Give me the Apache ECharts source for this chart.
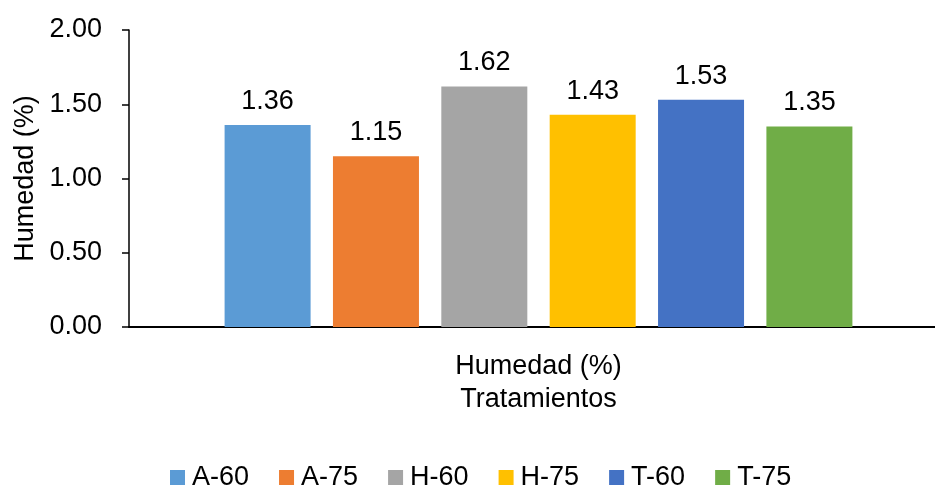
<!DOCTYPE html>
<html>
<head>
<meta charset="utf-8">
<script src="https://cdn.jsdelivr.net/npm/echarts@6/dist/echarts.min.js"></script>
<style>
  html, body { margin: 0; padding: 0; background: #fff; overflow: hidden; }
  #chart { width: 935px; height: 489px; }
</style>
</head>
<body>
<div id="chart"></div>
<script>
// Moisture content per treatment
const categories = ['Humedad (%)'];
const seriesNames = ['A-60', 'A-75', 'H-60', 'H-75', 'T-60', 'T-75'];
const seriesValues = [1.36, 1.15, 1.62, 1.43, 1.53, 1.35];
const seriesColors = ['#5B9BD5', '#ED7D31', '#A5A5A5', '#FFC000', '#4472C4', '#70AD47'];
const yTicks = { min: 0, max: 2, interval: 0.5 };

const FONT = 'Liberation Sans, Arial, sans-serif';
const FS = 27;

const chart = echarts.init(document.getElementById('chart'), null, { renderer: 'canvas' });

const series = seriesNames.map((name, i) => ({
  name: name,
  type: 'bar',
  data: [seriesValues[i]],
  barWidth: 86,
  barGap: '26%',
  itemStyle: { color: seriesColors[i] },
  label: {
    show: true,
    position: 'top',
    distance: 10,
    formatter: p => p.value.toFixed(2),
    color: '#000',
    fontFamily: FONT,
    fontSize: FS
  }
}));

chart.setOption({
  animation: false,
  textStyle: { fontFamily: FONT },
  // plot area runs a little past the right edge of the canvas
  grid: {
    left: 129, width: 819, top: 30, bottom: 162,
    containLabel: false, outerBoundsMode: 'none'
  },
  xAxis: {
    type: 'category',
    data: categories,
    name: 'Tratamientos',
    nameLocation: 'middle',
    nameGap: 59,
    nameTextStyle: { color: '#000', fontSize: FS, fontFamily: FONT },
    axisLine: { lineStyle: { color: '#000', width: 2 } },
    axisTick: { show: false },
    axisLabel: { color: '#000', fontSize: FS, fontFamily: FONT, margin: 26 }
  },
  yAxis: {
    type: 'value',
    min: yTicks.min,
    max: yTicks.max,
    interval: yTicks.interval,
    name: 'Humedad (%)',
    nameLocation: 'middle',
    nameGap: 89,
    nameTextStyle: { color: '#000', fontSize: FS, fontFamily: FONT },
    axisLine: { show: true, lineStyle: { color: '#000', width: 1.5 } },
    axisTick: { show: true, length: 7, lineStyle: { color: '#000', width: 1.5 } },
    splitLine: { show: false },
    axisLabel: {
      color: '#000', fontSize: FS, fontFamily: FONT, margin: 27,
      formatter: v => v.toFixed(2)
    }
  },
  legend: {
    data: seriesNames,
    top: 464,
    left: 170,
    padding: 0,
    itemWidth: 15,
    itemHeight: 15,
    itemGap: 30,
    icon: 'rect',
    textStyle: { color: '#000', fontSize: FS, fontFamily: FONT, padding: [0, 0, 0, 2] }
  },
  series: series
});
</script>
</body>
</html>
